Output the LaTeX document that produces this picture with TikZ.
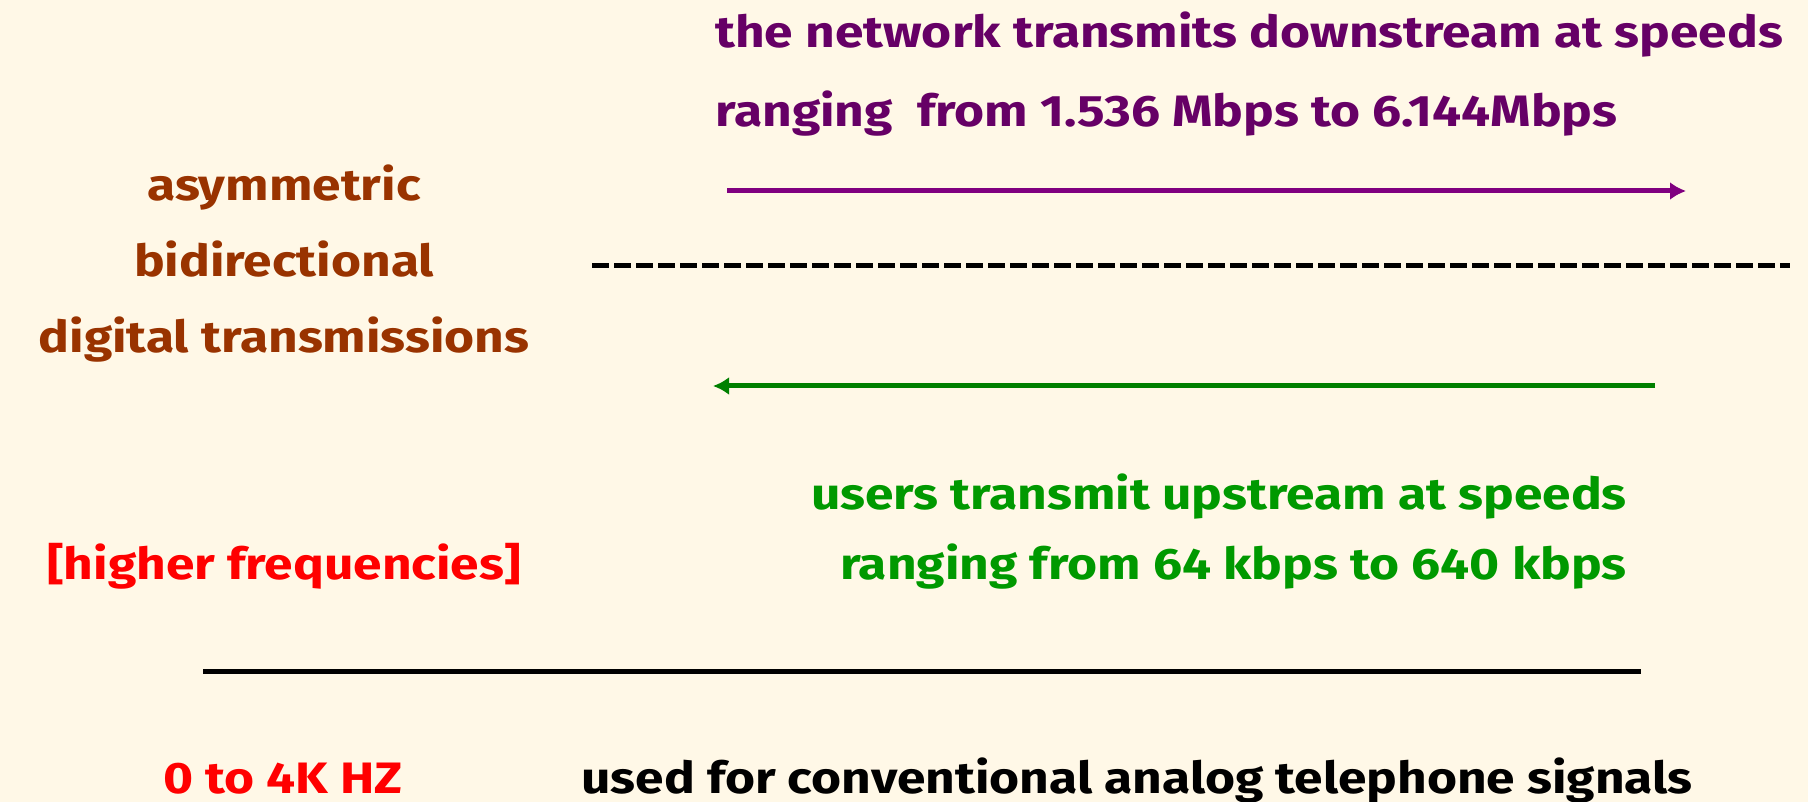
\documentclass[tikz,border=0pt]{standalone}
\usepackage{fontspec}
\setmainfont[FakeStretch=1.17]{Fira Sans}
\usetikzlibrary{arrows.meta}
\definecolor{cream}{HTML}{FFF8E7}
\definecolor{downtxt}{HTML}{660066}
\definecolor{downline}{HTML}{800080}
\definecolor{kindtxt}{HTML}{993300}
\definecolor{uptxt}{HTML}{009900}
\definecolor{upline}{HTML}{008000}
\tikzset{
    label text/.style={font=\fontsize{44}{52}\selectfont\bfseries, inner sep=0pt},
    flow/.style={line width=5pt, ->, >={Latex[length=16pt,width=18pt]}}
}
\begin{document}
\begin{tikzpicture}[x=1pt, y=-1pt]
        \fill[cream] (0,0) rectangle (1808,802);
        \useasboundingbox (0,0) rectangle (1808,802);

        % downstream
        \node[label text, downtxt, anchor=base west] (down-1) at (715,48) {the network transmits downstream at speeds};
        \node[label text, downtxt, anchor=base west] (down-2) at (715,127) {ranging~ from 1.536 Mbps to 6.144Mbps};
        \coordinate (down-start) at (727,191);
        \coordinate (down-end) at (1686,191);
        \draw[flow, downline] (down-start) -- (down-end);

        % split between the two directions
        \coordinate (split-start) at (592,266);
        \coordinate (split-end) at (1790,266);
        \draw[line width=5pt, dash pattern=on 17pt off 5pt] (split-start) -- (split-end);

        \foreach[count=\i] \txt/\yy in {asymmetric/201, bidirectional/277, digital transmissions/353} {
            \node[label text, kindtxt, anchor=base] (kind-\i) at (284,\yy) {\txt};
        }

        % upstream
        \coordinate (up-start) at (1655,386);
        \coordinate (up-end) at (713,386);
        \draw[flow, upline] (up-start) -- (up-end);
        \node[label text, uptxt, anchor=base east] (up-1) at (1627,509) {users transmit upstream at speeds};
        \node[label text, uptxt, anchor=base east] (up-2) at (1627,579) {ranging from 64 kbps to 640 kbps};
        \node[label text, red, anchor=base] (high) at (284,579) {[higher frequencies]};

        % voice band
        \coordinate (voice-start) at (203,671);
        \coordinate (voice-end) at (1641,671);
        \draw[line width=5pt] (voice-start) -- (voice-end);
        \node[label text, red, anchor=base] (low) at (283,793) {0 to 4K HZ};
        \node[label text, anchor=base] (voice) at (1137,793) {used for conventional analog telephone signals};
    \end{tikzpicture}
\end{document}
